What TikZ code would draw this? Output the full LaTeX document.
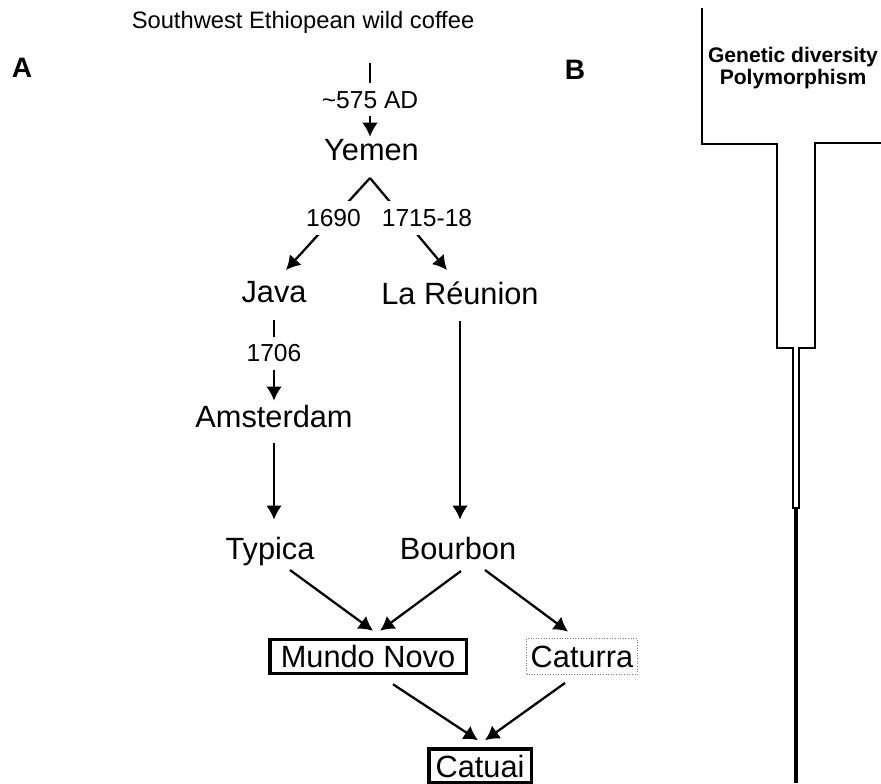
\documentclass[tikz,border=0pt]{standalone}
\usepackage{fontspec}
\setmainfont{Liberation Sans}
\usetikzlibrary{arrows.meta,calc}

\newcommand{\sitefont}{\fontsize{17.5}{20}\selectfont}
\newcommand{\yrfont}{\fontsize{14}{16}\selectfont}

\tikzset{
  sitelab/.style={inner sep=1pt, anchor=base, font=\sitefont},
  yearlab/.style={fill=white, inner xsep=1pt, inner ysep=4.5pt, font=\yrfont},
  flow/.style={->, line width=1.3pt},
  variety/.style={draw, line width=2pt, inner sep=0pt, minimum height=0.68cm, font=\sitefont},
  panel/.style={font=\bfseries\fontsize{16}{18}\selectfont},
}

\begin{document}
\begin{tikzpicture}[>={Latex[length=8pt,width=9pt]}]
   \useasboundingbox (0,0) rectangle (17.62,-15.66);

   % panel letters
   \node[panel] (pa) at (0.44,-1.36) {A};
   \node[panel] (pb) at (11.50,-1.39) {B};

   % A: spread of the coffee
   \node[anchor=base, font=\fontsize{13.5}{16}\selectfont] (swc) at (6.06,-0.56) {Southwest Ethiopean wild coffee};
   \coordinate (swcfoot) at (7.40,-1.26);
   \node[sitelab] (yemen) at (7.43,-3.20) {Yemen};
   \coordinate (fork) at (7.40,-3.56);
   \node[sitelab] (java) at (5.48,-6.04) {Java};
   \node[sitelab] (reunion) at (9.20,-6.08) {La Réunion};
   \node[sitelab] (amst) at (5.48,-8.54) {Amsterdam};
   \node[sitelab] (typica) at (5.40,-11.18) {Typica};
   \node[sitelab] (bourbon) at (9.16,-11.18) {Bourbon};

   \node[variety, minimum width=3.93cm] (mundo) at (7.36,-13.13) {Mundo Novo};
   \node[variety, line width=0.5pt, draw=gray, densely dotted, minimum width=2.22cm, minimum height=0.72cm] (caturra) at (11.64,-13.13) {Caturra};
   \node[variety, minimum width=2.05cm] (catuai) at (9.60,-15.32) {Catuai};

   \draw[flow] (swcfoot) -- node[yearlab]{\textasciitilde575 AD} (swcfoot |- yemen.north);
   \draw[flow] (fork) -- node[yearlab, pos=0.435]{1690} ([shift={(0.24,0.64)}]java.base);
   \draw[flow] (fork) -- node[yearlab, pos=0.435, xshift=0.47cm]{1715-18} ([shift={(-0.26,0.68)}]reunion.base);
   \draw[flow, shorten <=0.32cm, shorten >=0.04cm] (java) -- node[yearlab]{1706} (amst);
   \draw[flow, shorten <=0.28cm, shorten >=0.3cm] (amst) -- (amst |- typica.north);
   \draw[flow, shorten <=0.3cm, shorten >=0.3cm] (reunion) -- (reunion |- bourbon.north);

   % crosses
   \draw[flow] ([shift={(0.40,-0.22)}]typica.base) -- ([shift={(0.10,0.14)}]mundo.north);
   \draw[flow] ([shift={(0.06,-0.24)}]bourbon.base) -- ([shift={(0.24,0.14)}]mundo.north);
   \draw[flow] ([shift={(0.54,-0.22)}]bourbon.base) -- ([shift={(-0.28,0.13)}]caturra.north);
   \draw[flow] ([shift={(0.50,-0.18)}]mundo.south) -- ([shift={(-0.04,0.14)}]catuai.north);
   \draw[flow] ([shift={(-0.34,-0.16)}]caturra.south) -- ([shift={(0.10,0.14)}]catuai.north);

   % B: bottleneck
   \node[align=center, font=\bfseries\fontsize{12}{12.5}\selectfont] (gd) at (15.86,-1.36) {Genetic diversity\\Polymorphism};
   \draw[line width=1.2pt] (14.04,-0.16) -- (14.04,-2.88) -- (15.54,-2.88) -- (15.54,-6.96)
      -- (15.86,-6.96) -- (15.86,-10.16) -- (15.98,-10.16) -- (15.98,-6.96)
      -- (16.30,-6.96) -- (16.30,-2.86) -- (17.62,-2.86);
   \draw[line width=1.8pt] (15.92,-10.16) -- (15.92,-15.66);
\end{tikzpicture}
\end{document}
